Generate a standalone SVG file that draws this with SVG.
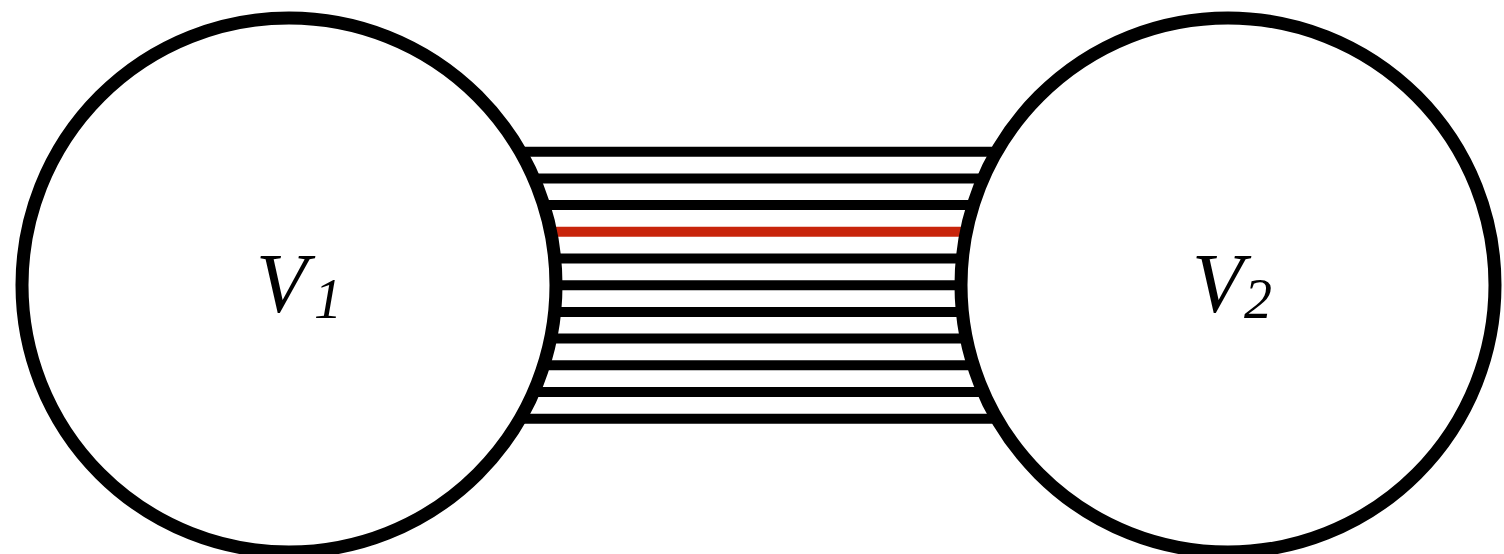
<svg xmlns="http://www.w3.org/2000/svg" width="1504" height="554" viewBox="0 0 1504 554">
<style>
.edge{stroke:#000;stroke-width:10;fill:none}
.red{stroke:#c8240b}
.node{fill:#fff;stroke:#000;stroke-width:13}
.lbl{font-family:"Liberation Serif",serif;font-style:italic;fill:#000}
</style>
<rect width="1504" height="554" fill="#fff"/>
<g id="connectors">
<line class="edge" x1="450" y1="151.7" x2="1060" y2="151.7"/>
<line class="edge" x1="450" y1="178.4" x2="1060" y2="178.4"/>
<line class="edge" x1="450" y1="205.1" x2="1060" y2="205.1"/>
<line class="edge red" x1="450" y1="231.8" x2="1060" y2="231.8"/>
<line class="edge" x1="450" y1="258.5" x2="1060" y2="258.5"/>
<line class="edge" x1="450" y1="285.2" x2="1060" y2="285.2"/>
<line class="edge" x1="450" y1="311.9" x2="1060" y2="311.9"/>
<line class="edge" x1="450" y1="338.6" x2="1060" y2="338.6"/>
<line class="edge" x1="450" y1="365.3" x2="1060" y2="365.3"/>
<line class="edge" x1="450" y1="392" x2="1060" y2="392"/>
<line class="edge" x1="450" y1="418.7" x2="1060" y2="418.7"/>
</g>
<g id="V1">
<circle class="node" cx="289" cy="285" r="267"/>
<text class="lbl" x="256" y="312" font-size="84">V</text>
<text class="lbl" x="314" y="318" font-size="56">1</text>
</g>
<g id="V2">
<circle class="node" cx="1228" cy="285" r="267"/>
<text class="lbl" x="1192" y="312" font-size="84">V</text>
<text class="lbl" x="1244" y="318" font-size="56">2</text>
</g>
</svg>
